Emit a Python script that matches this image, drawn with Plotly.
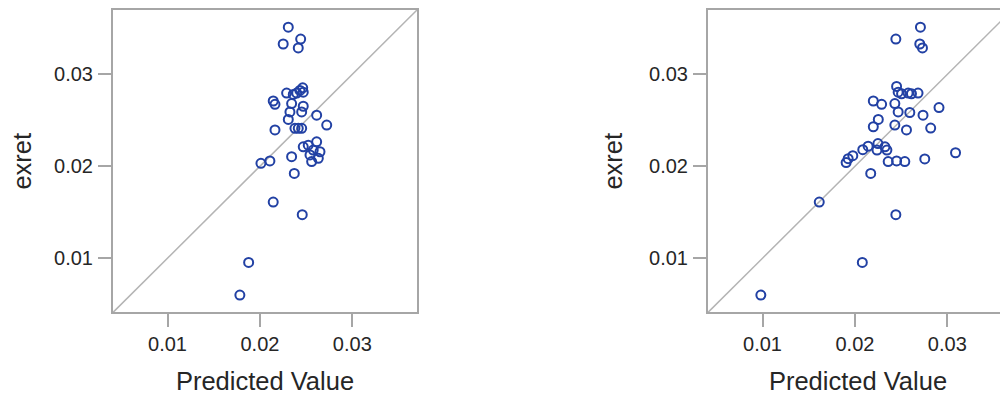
import plotly.graph_objects as go

# ---- data ----
pred_left = [0.02307, 0.02441, 0.02252, 0.02415, 0.02289, 0.02361, 0.02398, 0.02433,
             0.02463, 0.02469, 0.02144, 0.02163, 0.02343, 0.02325, 0.02307, 0.02469,
             0.02452, 0.02614, 0.02723, 0.02163, 0.02379, 0.02415, 0.02452, 0.02343,
             0.02469, 0.02523, 0.02614, 0.02577, 0.02650, 0.02542, 0.02632, 0.02560,
             0.02108, 0.02011, 0.02372, 0.02144, 0.02458, 0.01878, 0.01783]
exret_left = [0.03513, 0.03384, 0.03330, 0.03287, 0.02796, 0.02782, 0.02796, 0.02825,
              0.02854, 0.02806, 0.02710, 0.02674, 0.02682, 0.02591, 0.02510, 0.02653,
              0.02591, 0.02556, 0.02448, 0.02395, 0.02413, 0.02413, 0.02413, 0.02104,
              0.02212, 0.02230, 0.02266, 0.02176, 0.02158, 0.02123, 0.02086, 0.02051,
              0.02058, 0.02032, 0.01922, 0.01610, 0.01473, 0.00954, 0.00599]

pred_right = [0.02709, 0.02443, 0.02702, 0.02731, 0.02451, 0.02468, 0.02505, 0.02576,
              0.02612, 0.02683, 0.02199, 0.02289, 0.02432, 0.02468, 0.02594, 0.02737,
              0.02910, 0.02253, 0.02199, 0.02432, 0.02558, 0.02820, 0.02249, 0.02325,
              0.02239, 0.02346, 0.02143, 0.02085, 0.01977, 0.01927, 0.01905, 0.02360,
              0.02451, 0.02540, 0.02756, 0.03089, 0.02171, 0.01614, 0.02443, 0.02080,
              0.00982]
exret_right = [0.03513, 0.03384, 0.03330, 0.03287, 0.02868, 0.02806, 0.02789, 0.02796,
               0.02789, 0.02796, 0.02710, 0.02674, 0.02682, 0.02591, 0.02585, 0.02556,
               0.02639, 0.02510, 0.02430, 0.02448, 0.02395, 0.02416, 0.02247, 0.02212,
               0.02176, 0.02176, 0.02219, 0.02180, 0.02115, 0.02083, 0.02040, 0.02051,
               0.02058, 0.02051, 0.02080, 0.02147, 0.01922, 0.01610, 0.01473, 0.00954,
               0.00599]

tick_vals = [0.01, 0.02, 0.03]
tick_text = ["0.01", "0.02", "0.03"]
x_title = "Predicted Value"
y_title = "exret"

# ---- styling ----
OFF = 8                      # page body margin of the browser
W, H = 1008 - OFF, 396 - OFF
axis_lo, axis_hi = 0.0041, 0.0370
marker_color = "#2241a4"
frame_color = "#a6a6a6"
diag_color = "#b4b4b4"
text_color = "#262626"
font_family = "Liberation Sans, Arial, sans-serif"

# pixel positions in the page, converted to figure coordinates
left_x0, left_x1 = 113 - OFF, 417 - OFF
right_x0 = 708 - OFF
top_px, bot_px = 7 - OFF, 312 - OFF

ydom = [1 - bot_px / H, min(1.0, 1 - top_px / H)]
right_hi = axis_lo + (W - right_x0) / (left_x1 - left_x0) * (axis_hi - axis_lo)

fig = go.Figure()
marker = dict(symbol="circle-open", size=9, color=marker_color,
              line=dict(width=2, color=marker_color))
fig.add_trace(go.Scatter(x=pred_left, y=exret_left, mode="markers", marker=marker,
                         xaxis="x", yaxis="y", showlegend=False, cliponaxis=False))
fig.add_trace(go.Scatter(x=pred_right, y=exret_right, mode="markers", marker=marker,
                         xaxis="x2", yaxis="y2", showlegend=False))

tickfont = dict(family=font_family, size=20, color=text_color)
titlefont = dict(family=font_family, size=25.5, color=text_color)

common = dict(tickvals=tick_vals, ticktext=tick_text, ticks="outside", ticklen=13,
              tickwidth=1.5, tickcolor=frame_color, showline=True, linecolor=frame_color,
              linewidth=2, showgrid=False, zeroline=False, tickfont=tickfont)

fig.update_layout(
    width=W, height=H, autosize=False,
    margin=dict(l=0, r=0, t=0, b=0),
    paper_bgcolor="white", plot_bgcolor="white",
    xaxis=dict(domain=[left_x0 / W, left_x1 / W], range=[axis_lo, axis_hi], anchor="y",
               mirror=True, ticklabelstandoff=0,
               title=dict(text=x_title, font=titlefont, standoff=18), **common),
    yaxis=dict(domain=ydom, range=[axis_lo, axis_hi], anchor="x",
               mirror=True, ticklabelstandoff=1,
               title=dict(text=y_title, font=titlefont, standoff=19), **common),
    xaxis2=dict(domain=[right_x0 / W, 1.0], range=[axis_lo, right_hi], anchor="y2",
                mirror=True, ticklabelstandoff=0,
                title=dict(text=x_title, font=titlefont, standoff=18), **common),
    yaxis2=dict(domain=ydom, range=[axis_lo, axis_hi], anchor="x2",
                mirror=False, ticklabelstandoff=1,
                title=dict(text=y_title, font=titlefont, standoff=19), **common),
)

# identity (y = x) reference lines
fig.add_shape(type="line", xref="x", yref="y", x0=axis_lo, y0=axis_lo, x1=axis_hi, y1=axis_hi,
              line=dict(color=diag_color, width=1.5), layer="below")
fig.add_shape(type="line", xref="x2", yref="y2", x0=axis_lo, y0=axis_lo, x1=right_hi, y1=right_hi,
              line=dict(color=diag_color, width=1.5), layer="below")

fig.write_html("out.html")
